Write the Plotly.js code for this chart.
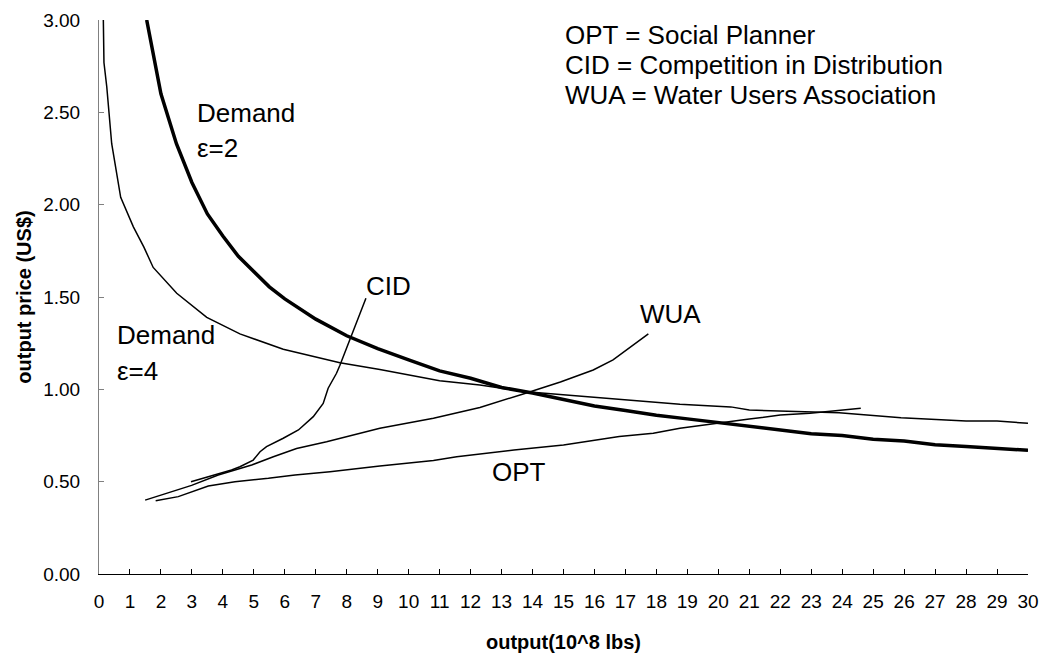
<!DOCTYPE html>
<html>
<head>
<meta charset="utf-8">
<script src="https://cdn.plot.ly/plotly-3.0.1.min.js"></script>
<style>html,body{margin:0;padding:0;background:#fff}#chart{width:1044px;height:658px}</style>
</head>
<body>
<div id="chart"></div>
<script>
// Demand, elasticity 2 (thick)
const demand2X = [1.54, 2.0, 2.5, 3.0, 3.5, 4.0, 4.5, 5.0, 5.5, 6.0, 6.7, 7.0, 8.0, 9.0, 10.0, 11.0, 12.0, 13.0, 14.0, 15.0, 16.0, 17.0, 18.0, 19.0, 20.0, 21.0, 22.0, 23.0, 24.0, 25.0, 26.0, 27.0, 28.0, 29.0, 30.0];
const demand2Y = [3.00, 2.60, 2.33, 2.12, 1.95, 1.83, 1.72, 1.64, 1.555, 1.49, 1.41, 1.38, 1.29, 1.22, 1.16, 1.10, 1.06, 1.01, 0.98, 0.945, 0.91, 0.885, 0.86, 0.84, 0.82, 0.80, 0.78, 0.76, 0.75, 0.73, 0.72, 0.70, 0.69, 0.68, 0.67];
// Demand, elasticity 4 (thin)
const demand4X = [0.14, 0.16, 0.25, 0.41, 0.70, 1.11, 1.45, 1.75, 2.51, 3.48, 4.55, 5.95, 7.78, 9.07, 11.0, 12.3, 13.8, 15.96, 17.25, 18.76, 20.4, 21.0, 23.9, 25.9, 28.0, 29.0, 30.0];
const demand4Y = [3.00, 2.77, 2.64, 2.33, 2.04, 1.88, 1.77, 1.66, 1.52, 1.39, 1.30, 1.217, 1.144, 1.108, 1.047, 1.023, 0.987, 0.957, 0.937, 0.919, 0.905, 0.888, 0.873, 0.846, 0.828, 0.828, 0.816];
// CID = Competition in Distribution
const cidX = [2.97, 3.5, 4.28, 4.55, 4.98, 5.2, 5.41, 5.95, 6.44, 6.92, 7.24, 7.4, 7.67, 7.78, 8.21, 8.62];
const cidY = [0.50, 0.525, 0.563, 0.581, 0.617, 0.662, 0.69, 0.735, 0.78, 0.852, 0.924, 1.006, 1.087, 1.13, 1.312, 1.493];
// WUA = Water Users Association
const wuaX = [1.49, 2.24, 2.99, 3.85, 4.93, 5.63, 6.38, 7.35, 9.07, 10.8, 12.3, 13.7, 14.9, 15.96, 16.6, 17.74];
const wuaY = [0.40, 0.44, 0.48, 0.536, 0.59, 0.635, 0.68, 0.716, 0.789, 0.843, 0.902, 0.975, 1.04, 1.105, 1.159, 1.30];
// OPT = Social Planner
const optX = [1.83, 2.56, 3.53, 4.39, 5.47, 6.33, 7.46, 9.07, 10.8, 11.55, 13.4, 15.0, 16.8, 17.9, 18.76, 20.1, 21.0, 22.0, 22.96, 24.6];
const optY = [0.397, 0.419, 0.476, 0.50, 0.518, 0.536, 0.554, 0.585, 0.614, 0.635, 0.671, 0.699, 0.744, 0.762, 0.789, 0.817, 0.839, 0.861, 0.871, 0.898];

const xTickVals = [0,1,2,3,4,5,6,7,8,9,10,11,12,13,14,15,16,17,18,19,20,21,22,23,24,25,26,27,28,29,30];
const yTickVals = [0, 0.5, 1.0, 1.5, 2.0, 2.5, 3.0];

const xTitle = 'output(10^8 lbs)';
const yTitle = 'output price (US$)';
const legendLines = ['OPT = Social Planner', 'CID = Competition in Distribution', 'WUA = Water Users Association'];

const FONT = 'Liberation Sans, Arial, sans-serif';
const W = 1044, H = 658, L = 99, R = 16, T = 20, B = 84;
const pw = W - L - R, ph = H - T - B;
function px(x){ return (x - L) / pw; }
function py(y){ return (H - B - y) / ph; }

function line(x, y, w){
  return {x: x, y: y, type: 'scatter', mode: 'lines', line: {color: '#000', width: w}, hoverinfo: 'skip', showlegend: false};
}

const data = [
  line(demand4X, demand4Y, 1.5),
  line(optX, optY, 1.5),
  line(wuaX, wuaY, 1.5),
  line(cidX, cidY, 1.5),
  line(demand2X, demand2Y, 3.5)
];

function ann(text, x, y, size){
  return {text: text, xref: 'paper', yref: 'paper', x: px(x), y: py(y), xanchor: 'left', yanchor: 'middle',
          showarrow: false, font: {family: FONT, size: size || 26, color: '#000'}};
}

const annotations = [
  ann('Demand', 195, 113),
  ann('ε=2', 195, 147.5),
  ann('Demand', 115, 335),
  ann('ε=4', 115, 371),
  ann('CID', 364, 286),
  ann('WUA', 638, 314),
  ann('OPT', 490, 472),
  ann(legendLines[0], 563, 34.5),
  ann(legendLines[1], 563, 64.5),
  ann(legendLines[2], 563, 94.5)
];

const layout = {
  width: W, height: H,
  margin: {l: L, r: R, t: T, b: B, pad: 0},
  paper_bgcolor: '#fff', plot_bgcolor: '#fff',
  font: {family: FONT, color: '#000'},
  showlegend: false,
  xaxis: {
    range: [0, 30], tickvals: xTickVals, ticktext: xTickVals.map(String),
    showgrid: false, zeroline: false, showline: true, linecolor: '#000', linewidth: 1,
    ticks: 'inside', ticklen: 5, tickcolor: '#000', tickwidth: 1,
    tickfont: {family: FONT, size: 19, color: '#000'}, ticklabelstandoff: 10,
    title: {text: xTitle, font: {family: FONT, size: 20, color: '#000', weight: 'bold'}, standoff: 24}
  },
  yaxis: {
    range: [0, 3], tickvals: yTickVals, tickformat: '.2f',
    showgrid: false, zeroline: false, showline: true, linecolor: '#808080', linewidth: 1,
    ticks: 'inside', ticklen: 5, tickcolor: '#808080', tickwidth: 1,
    tickfont: {family: FONT, size: 19, color: '#000'}, ticklabelstandoff: 14,
    title: {text: yTitle, font: {family: FONT, size: 20, color: '#000', weight: 'bold'}, standoff: 6}
  },
  annotations: annotations
};

Plotly.newPlot('chart', data, layout, {displayModeBar: false, staticPlot: true});
</script>
</body>
</html>
